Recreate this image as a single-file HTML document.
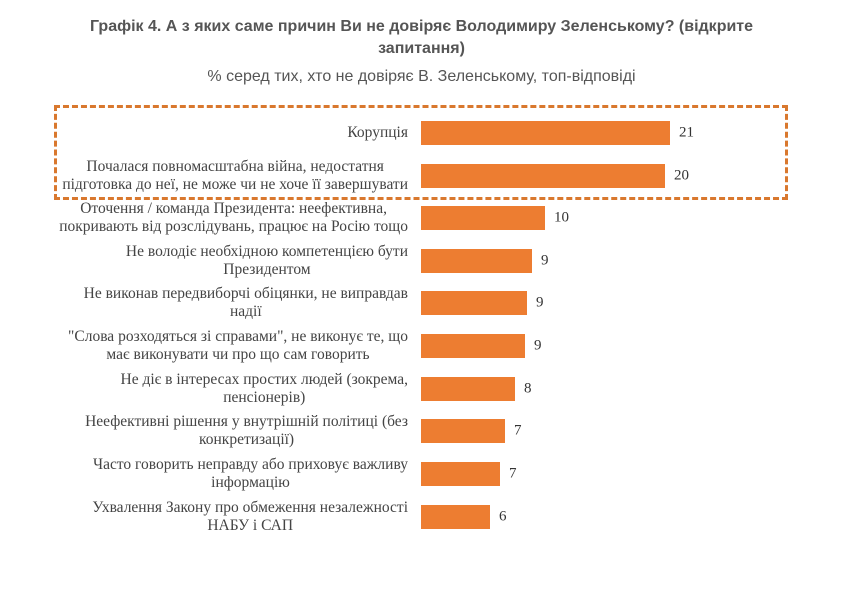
<!DOCTYPE html>
<html><head><meta charset="utf-8"><style>
body{margin:0;width:843px;height:595px;background:#fff;position:relative;overflow:hidden;font-family:"Liberation Sans",sans-serif}
.t{position:absolute;left:0;width:843px;text-align:center;color:#555}
.lab{position:absolute;right:435px;text-align:center;font-family:"Liberation Serif",serif;font-size:15.5px;line-height:18px;color:#444;transform:translateY(-50%);white-space:nowrap}
.bar{position:absolute;left:421px;height:24px;background:#ed7d31;transform:translateY(-50%)}
.v{position:absolute;font-family:"Liberation Serif",serif;font-size:15px;color:#333;transform:translateY(-50%)}
</style></head><body>
<div class="t" style="top:16px;font-weight:bold;font-size:16px;line-height:22px">Графік 4. А з яких саме причин Ви не довіряє Володимиру Зеленському? (відкрите<br>запитання)</div>
<div class="t" style="top:68px;font-size:16px">% серед тих, хто не довіряє В. Зеленському, топ-відповіді</div>
<div style="position:absolute;left:54px;top:105px;width:728px;height:89px;border:3px dashed #d9782e"></div>
<div class="lab" style="top:133px">Корупція</div><div class="bar" style="top:133px;width:249px"></div><div class="v" style="top:133px;left:679px">21</div>
<div class="lab" style="top:176px">Почалася повномасштабна війна, недостатня<br>підготовка до неї, не може чи не хоче її завершувати</div><div class="bar" style="top:176px;width:244px"></div><div class="v" style="top:176px;left:674px">20</div>
<div class="lab" style="top:218px">Оточення / команда Президента: неефективна,<br>покривають від розслідувань, працює на Росію тощо</div><div class="bar" style="top:218px;width:124px"></div><div class="v" style="top:218px;left:554px">10</div>
<div class="lab" style="top:261px">Не володіє необхідною компетенцією бути<br>Президентом</div><div class="bar" style="top:261px;width:111px"></div><div class="v" style="top:261px;left:541px">9</div>
<div class="lab" style="top:303px">Не виконав передвиборчі обіцянки, не виправдав<br>надії</div><div class="bar" style="top:303px;width:106px"></div><div class="v" style="top:303px;left:536px">9</div>
<div class="lab" style="top:346px">"Слова розходяться зі справами", не виконує те, що<br>має виконувати чи про що сам говорить</div><div class="bar" style="top:346px;width:104px"></div><div class="v" style="top:346px;left:534px">9</div>
<div class="lab" style="top:389px">Не діє в інтересах простих людей (зокрема,<br>пенсіонерів)</div><div class="bar" style="top:389px;width:94px"></div><div class="v" style="top:389px;left:524px">8</div>
<div class="lab" style="top:431px">Неефективні рішення у внутрішній політиці (без<br>конкретизації)</div><div class="bar" style="top:431px;width:84px"></div><div class="v" style="top:431px;left:514px">7</div>
<div class="lab" style="top:474px">Часто говорить неправду або приховує важливу<br>інформацію</div><div class="bar" style="top:474px;width:79px"></div><div class="v" style="top:474px;left:509px">7</div>
<div class="lab" style="top:517px">Ухвалення Закону про обмеження незалежності<br>НАБУ і САП</div><div class="bar" style="top:517px;width:69px"></div><div class="v" style="top:517px;left:499px">6</div>
</body></html>
